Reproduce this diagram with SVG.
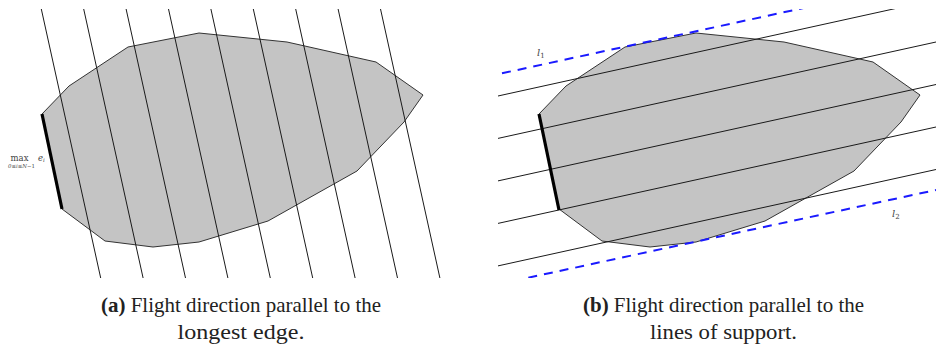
<svg xmlns="http://www.w3.org/2000/svg" width="936" height="356" viewBox="0 0 936 356">
<defs>
<style>
.poly{fill:#c4c4c4;stroke:#333;stroke-width:1}
.ln{stroke:#1a1a1a;stroke-width:1;fill:none}
.thick{stroke:#000;stroke-width:3.2;fill:none}
.dash{stroke:#1a1aff;stroke-width:2;stroke-dasharray:9 7;fill:none}
.cap{font-family:"Liberation Serif","DejaVu Serif",serif;font-size:21px;fill:#222;text-anchor:middle}
.math{font-family:"DejaVu Serif","Liberation Serif",serif;fill:#444}
</style>
<polygon id="shape" class="poly" points="42,114 69,86 128,47 199,33 287,42 376,62 423,95 404,122 357,171 268,221 199,242 153,247 105,241 62,209"/>
<clipPath id="clipA"><rect x="0" y="9" width="468" height="269"/></clipPath>
<clipPath id="clipB"><rect x="498" y="9" width="438" height="269"/></clipPath>
</defs>

<g id="panel-a">
<use href="#shape"/>
<g id="flight-lines-a" clip-path="url(#clipA)">
<line class="ln" x1="41.3" y1="9" x2="100.7" y2="278"/>
<line class="ln" x1="83.7" y1="9" x2="143.1" y2="278"/>
<line class="ln" x1="126.1" y1="9" x2="185.5" y2="278"/>
<line class="ln" x1="168.5" y1="9" x2="227.9" y2="278"/>
<line class="ln" x1="210.9" y1="9" x2="270.3" y2="278"/>
<line class="ln" x1="253.3" y1="9" x2="312.7" y2="278"/>
<line class="ln" x1="295.7" y1="9" x2="355.1" y2="278"/>
<line class="ln" x1="338.1" y1="9" x2="397.5" y2="278"/>
<line class="ln" x1="380.5" y1="9" x2="439.9" y2="278"/>
</g>
<line id="longest-edge-a" class="thick" x1="42" y1="114" x2="62" y2="209"/>
<g id="label-max">
<text class="math" x="19.5" y="161" font-size="8.5" text-anchor="middle">max</text>
<text class="math" x="21.5" y="167.5" font-size="5.4" text-anchor="middle"><tspan font-style="italic">0≤i≤N</tspan>−1</text>
<text class="math" x="38" y="160.5" font-size="8.5" font-style="italic">e<tspan font-size="5.5" dy="1.5">i</tspan></text>
</g>
</g>

<g id="panel-b">
<use href="#shape" transform="translate(497,0)"/>
<g id="flight-lines-b" clip-path="url(#clipB)">
<line class="ln" x1="498" y1="96" x2="936" y2="-0.4"/>
<line class="ln" x1="498" y1="138.4" x2="936" y2="42"/>
<line class="ln" x1="498" y1="180.9" x2="936" y2="84.5"/>
<line class="ln" x1="498" y1="223.4" x2="936" y2="127"/>
<line class="ln" x1="498" y1="265.9" x2="936" y2="169.5"/>
<line id="l1" class="dash" x1="502" y1="73.3" x2="936" y2="-20.7"/>
<line id="l2" class="dash" x1="528.3" y1="277.7" x2="936" y2="190"/>
</g>
<line id="longest-edge-b" class="thick" x1="539" y1="114" x2="559" y2="210"/>
<text class="math" x="537" y="56" font-size="10" font-style="italic">l<tspan font-size="7" dy="2" font-style="normal">1</tspan></text>
<text class="math" x="892" y="217" font-size="10" font-style="italic">l<tspan font-size="7" dy="2" font-style="normal">2</tspan></text>
</g>

<g id="caption-a">
<text class="cap" x="241" y="312" textLength="280" lengthAdjust="spacingAndGlyphs"><tspan font-weight="bold">(a)</tspan> Flight direction parallel to the</text>
<text class="cap" x="241" y="339" textLength="127" lengthAdjust="spacingAndGlyphs">longest edge.</text>
</g>
<g id="caption-b">
<text class="cap" x="723.5" y="312" textLength="281" lengthAdjust="spacingAndGlyphs"><tspan font-weight="bold">(b)</tspan> Flight direction parallel to the</text>
<text class="cap" x="723.5" y="339" textLength="147" lengthAdjust="spacingAndGlyphs">lines of support.</text>
</g>
</svg>
